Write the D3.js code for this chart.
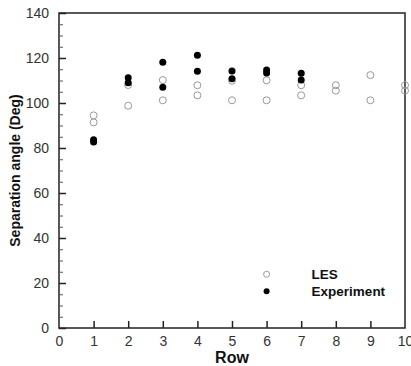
<!DOCTYPE html>
<html>
<head>
<meta charset="utf-8">
<script src="https://cdn.jsdelivr.net/npm/d3@7"></script>
<style>
  body { margin: 0; background: #fff; }
  text { font-family: "Liberation Sans", Arial, sans-serif; }
</style>
</head>
<body>
<div id="chart"></div>
<script>
// values
const lesRows = [1, 1, 2, 2, 3, 3, 4, 4, 5, 5, 6, 6, 7, 7, 8, 8, 9, 9, 10, 10];
const lesAngles = [94.5, 91.4, 108, 98.8, 110.2, 101.2, 107.9, 103.4, 109.9, 101.2,
  110.1, 101.2, 107.9, 103.4, 107.9, 105.5, 112.4, 101.2, 107.9, 105.5];
const expRows = [1, 1, 2, 2, 3, 3, 4, 4, 5, 5, 6, 6, 7, 7];
const expAngles = [83.7, 82.7, 111.2, 109.0, 118.1, 107.0, 121.2, 114.1, 114.2, 110.8,
  114.7, 113.3, 113.2, 110.2];
const xTicks = [0, 1, 2, 3, 4, 5, 6, 7, 8, 9, 10];
const yTicks = [0, 20, 40, 60, 80, 100, 120, 140];
const yMinorTicks = d3.range(0, 141, 5);
const legendItems = [
  { name: 'LES', row: 6, angle: 23.9, filled: false },
  { name: 'Experiment', row: 6, angle: 16.3, filled: true },
];

const width = 411;
const height = 366;
const margin = { top: 13, right: 6, bottom: 38, left: 59 };

const svg = d3.select('#chart')
  .append('svg')
    .attr('width', width)
    .attr('height', height);

const x = d3.scaleLinear().domain([0, 10]).range([margin.left, width - margin.right]);
const y = d3.scaleLinear().domain([0, 140]).range([height - margin.bottom, margin.top]);

// frame
svg.append('rect')
  .attr('x', x(0))
  .attr('y', y(140))
  .attr('width', x(10) - x(0))
  .attr('height', y(0) - y(140))
  .attr('fill', 'none')
  .attr('stroke', '#222')
  .attr('stroke-width', 1.5);

// minor y ticks (inside)
svg.append('g')
  .attr('transform', `translate(${x(0)},0)`)
  .call(d3.axisRight(y).tickValues(yMinorTicks.filter(v => v % 20 !== 0)).tickSize(4).tickFormat(''))
  .call(g => g.select('.domain').remove())
  .call(g => g.selectAll('line').attr('stroke', '#555'));

// major y axis
const yAxis = svg.append('g')
  .attr('transform', `translate(${x(0)},0)`)
  .call(d3.axisRight(y).tickValues(yTicks).tickSize(7).tickFormat(d3.format('d')))
  .call(g => g.select('.domain').remove());
yAxis.selectAll('line').attr('stroke', '#222').attr('stroke-width', 1.5);
yAxis.selectAll('text')
  .attr('x', -10)
  .attr('text-anchor', 'end')
  .attr('fill', '#333')
  .attr('font-size', 14);

// x axis
const xAxis = svg.append('g')
  .attr('transform', `translate(0,${y(0)})`)
  .call(d3.axisTop(x).tickValues(xTicks).tickSize(7).tickFormat(d3.format('d')))
  .call(g => g.select('.domain').remove());
xAxis.selectAll('line')
  .attr('stroke', '#222')
  .attr('stroke-width', 1.5)
  .attr('display', d => (d === 0 || d === 10 ? 'none' : null));
xAxis.selectAll('text')
  .attr('y', 14)
  .attr('dy', '0.32em')
  .attr('fill', '#333')
  .attr('font-size', 14);

// axis titles
svg.append('text')
  .attr('x', (x(0) + x(10)) / 2)
  .attr('y', 363)
  .attr('text-anchor', 'middle')
  .attr('font-size', 16)
  .attr('font-weight', 'bold')
  .attr('fill', '#111')
  .text('Row');

svg.append('text')
  .attr('transform', `translate(20,${(y(0) + y(140)) / 2}) rotate(-90)`)
  .attr('text-anchor', 'middle')
  .attr('font-size', 14)
  .attr('font-weight', 'bold')
  .attr('fill', '#111')
  .text('Separation angle (Deg)');

// LES points
svg.append('g')
  .selectAll('circle')
  .data(lesRows.map((r, i) => ({ r, a: lesAngles[i] })))
  .enter()
  .append('circle')
    .attr('cx', d => x(d.r))
    .attr('cy', d => y(d.a))
    .attr('r', 3.5)
    .attr('fill', 'none')
    .attr('stroke', '#999')
    .attr('stroke-width', 1);

// Experiment points
svg.append('g')
  .selectAll('circle')
  .data(expRows.map((r, i) => ({ r, a: expAngles[i] })))
  .enter()
  .append('circle')
    .attr('cx', d => x(d.r))
    .attr('cy', d => y(d.a))
    .attr('r', 3.5)
    .attr('fill', '#000');

// legend
const legend = svg.append('g')
  .selectAll('g')
  .data(legendItems)
  .enter()
  .append('g');

legend.append('circle')
  .attr('cx', d => x(d.row))
  .attr('cy', d => y(d.angle))
  .attr('r', 3)
  .attr('fill', d => (d.filled ? '#000' : 'none'))
  .attr('stroke', d => (d.filled ? 'none' : '#999'));

legend.append('text')
  .attr('x', d => x(d.row) + 45)
  .attr('y', d => y(d.angle))
  .attr('dy', '0.35em')
  .attr('font-size', 13.5)
  .attr('font-weight', 'bold')
  .attr('fill', '#111')
  .text(d => d.name);
</script>
</body>
</html>
